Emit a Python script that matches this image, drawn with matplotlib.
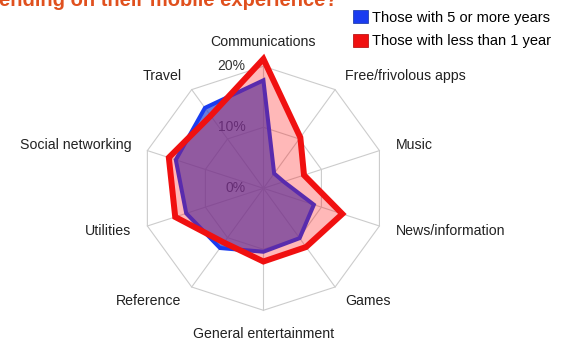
import matplotlib

matplotlib.use("Agg")

import matplotlib.pyplot as plt
import numpy as np
from matplotlib.patches import Patch

plt.rcParams["font.family"] = ["Liberation Sans", "DejaVu Sans"]

FIG_W_PX = 563
FIG_H_PX = 344
DPI = 100

CATEGORIES = [
    "Communications",
    "Free/frivolous apps",
    "Music",
    "News/information",
    "Games",
    "General entertainment",
    "Reference",
    "Utilities",
    "Social networking",
    "Travel",
]
FIVE_PLUS_YEARS = [17.7, 3.0, 3.5, 8.7, 10.1, 10.4, 12.1, 13.3, 15.1, 16.3]
LESS_THAN_ONE_YEAR = [21.2, 10.3, 7.0, 13.6, 11.9, 12.0, 11.0, 15.2, 16.3, 14.7]
SERIES_LABELS = ["Those with 5 or more years", "Those with less than 1 year"]
RING_LEVELS = [10, 20]
TICK_LEVELS = [0, 10, 20]
TITLE_TEXT = "ending on their mobile experience?"

BLUE = "#1a3cf0"
RED = "#f01010"
GRID_COLOR = "#cccccc"
TEXT_COLOR = "#222222"
TITLE_COLOR = "#e0501e"

R_MAX = 25.0
LABEL_R = 22.8


def closed(values):
    return list(values) + [values[0]]


def main() -> None:
    fig = plt.figure(figsize=(FIG_W_PX / DPI, FIG_H_PX / DPI), dpi=DPI)
    fig.patch.set_facecolor("white")

    # axes box sized so that 20% sits ~122 px from the centre
    side = 2 * R_MAX * 6.1
    cx, cy = 263.4, FIG_H_PX - 188.3
    ax = fig.add_axes(
        [(cx - side / 2) / FIG_W_PX, (cy - side / 2) / FIG_H_PX, side / FIG_W_PX, side / FIG_H_PX],
        projection="polar",
    )
    ax.set_theta_offset(np.pi / 2)
    ax.set_theta_direction(-1)
    ax.set_ylim(0, R_MAX)
    ax.set_axis_off()

    n = len(CATEGORIES)
    theta = np.arange(n) * 2 * np.pi / n
    theta_c = closed(list(theta))

    # decagon grid
    for level in RING_LEVELS:
        ax.plot(theta_c, [level] * (n + 1), color=GRID_COLOR, lw=0.8, zorder=0.5)
    for t in theta:
        ax.plot([t, t], [0, RING_LEVELS[-1]], color=GRID_COLOR, lw=0.8, zorder=0.5)

    # radial tick labels (sit under the fills)
    for level in TICK_LEVELS:
        ax.annotate(
            f"{level}%",
            xy=(0, level),
            xytext=(-13, 0),
            textcoords="offset points",
            ha="right",
            va="center",
            fontsize=10,
            color="#333333",
            zorder=0.8,
        )

    ax.fill(
        theta_c,
        closed(FIVE_PLUS_YEARS),
        facecolor=(40 / 255, 70 / 255, 210 / 255, 0.7),
        edgecolor=BLUE,
        linewidth=2.9,
        joinstyle="miter",
        zorder=2,
    )
    ax.fill(
        theta_c,
        closed(LESS_THAN_ONE_YEAR),
        facecolor=(1.0, 0.0, 0.0, 0.28),
        edgecolor=RED,
        linewidth=4.3,
        joinstyle="miter",
        zorder=3,
    )

    # category labels
    for t, name in zip(theta, CATEGORIES):
        s = np.sin(t)
        if abs(s) < 1e-6:
            ha = "center"
            va = "bottom" if np.cos(t) > 0 else "top"
        else:
            ha = "left" if s > 0 else "right"
            va = "center"
        ax.text(t, LABEL_R, name, ha=ha, va=va, fontsize=10.2, color=TEXT_COLOR)

    handles = [
        Patch(facecolor=BLUE, edgecolor="#1030a0", linewidth=0.5),
        Patch(facecolor=RED, edgecolor="#b00000", linewidth=0.5),
    ]
    fig.legend(
        handles,
        SERIES_LABELS,
        loc="upper left",
        bbox_to_anchor=(353 / FIG_W_PX, 1 - 10 / FIG_H_PX),
        frameon=False,
        fontsize=10.5,
        handlelength=1.0,
        handleheight=1.0,
        handletextpad=0.3,
        labelspacing=0.62,
        borderpad=0,
        borderaxespad=0,
    )

    fig.text(
        -1 / FIG_W_PX,
        1 - 5.5 / FIG_H_PX,
        TITLE_TEXT,
        ha="left",
        va="baseline",
        fontsize=14.5,
        fontweight="bold",
        color=TITLE_COLOR,
    )

    fig.savefig("out.png", dpi=DPI, facecolor="white")
    plt.close(fig)


if __name__ == "__main__":
    main()
